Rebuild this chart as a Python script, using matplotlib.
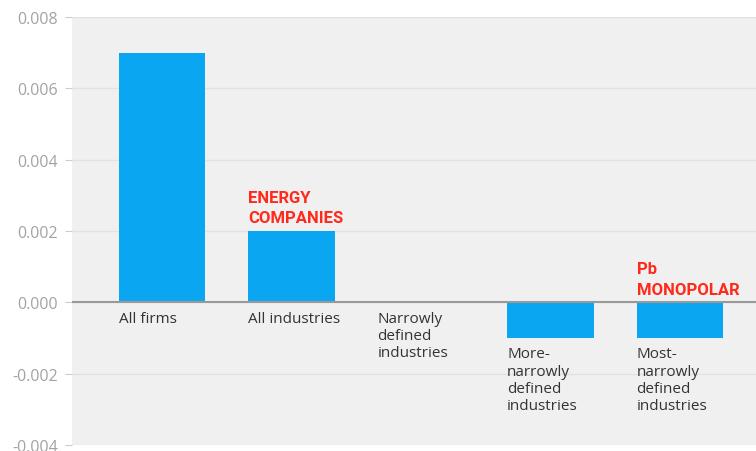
import matplotlib.pyplot as plt

# Chart data
categories = ['All firms', 'All industries', 'Narrowly\ndefined\nindustries',
              'More-\nnarrowly\ndefined\nindustries', 'Most-\nnarrowly\ndefined\nindustries']
values = [0.007, 0.002, 0.0, -0.001, -0.001]
callouts = {1: 'ENERGY\nCOMPANIES', 4: 'Pb\nMONOPOLAR'}
yticks = [-0.004, -0.002, 0.0, 0.002, 0.004, 0.006, 0.008]

bar_color = '#0ba6f2'
width = 0.67

fig = plt.figure(figsize=(7.56, 4.52), dpi=100)
ax = fig.add_axes([72 / 756, 6 / 452, 684 / 756, 428 / 452])
ax.set_facecolor('#f0f0f0')

x = list(range(len(values)))
ax.bar(x, values, width=width, color=bar_color, zorder=3)

ax.set_xlim(-0.695, 4.587)
ax.set_ylim(-0.004, 0.008)
ax.set_yticks(yticks)
ax.set_yticklabels(['%.3f' % t for t in yticks])
ax.set_xticks([])
ax.yaxis.grid(True, color='#e2e2e2', linewidth=1, zorder=0)
ax.axhline(0, color='#999999', linewidth=1.5, zorder=4)
for s in ax.spines.values():
    s.set_visible(False)
ax.tick_params(axis='y', length=5, color='#cccccc', labelcolor='#a3a3a3',
               labelsize=11.5, pad=5)
for lbl in ax.get_yticklabels():
    lbl.set_family('Open Sans')

# Category labels under the bars
for i, (cat, v) in enumerate(zip(categories, values)):
    ax.annotate(cat, xy=(i - width / 2, min(v, 0)), xytext=(0, -6),
                textcoords='offset points', ha='left', va='top',
                fontsize=11, color='#333333', family='Open Sans',
                linespacing=1.2, zorder=5)

# Red callouts above bars
for i, txt in callouts.items():
    ax.annotate(txt, xy=(i - width / 2, max(values[i], 0)), xytext=(0, 4),
                textcoords='offset points', ha='left', va='bottom',
                fontsize=12, color='#ff2a1a', family='Roboto',
                fontweight='bold', linespacing=1.45, zorder=5)

fig.savefig('out.png', dpi=100, facecolor='white')
